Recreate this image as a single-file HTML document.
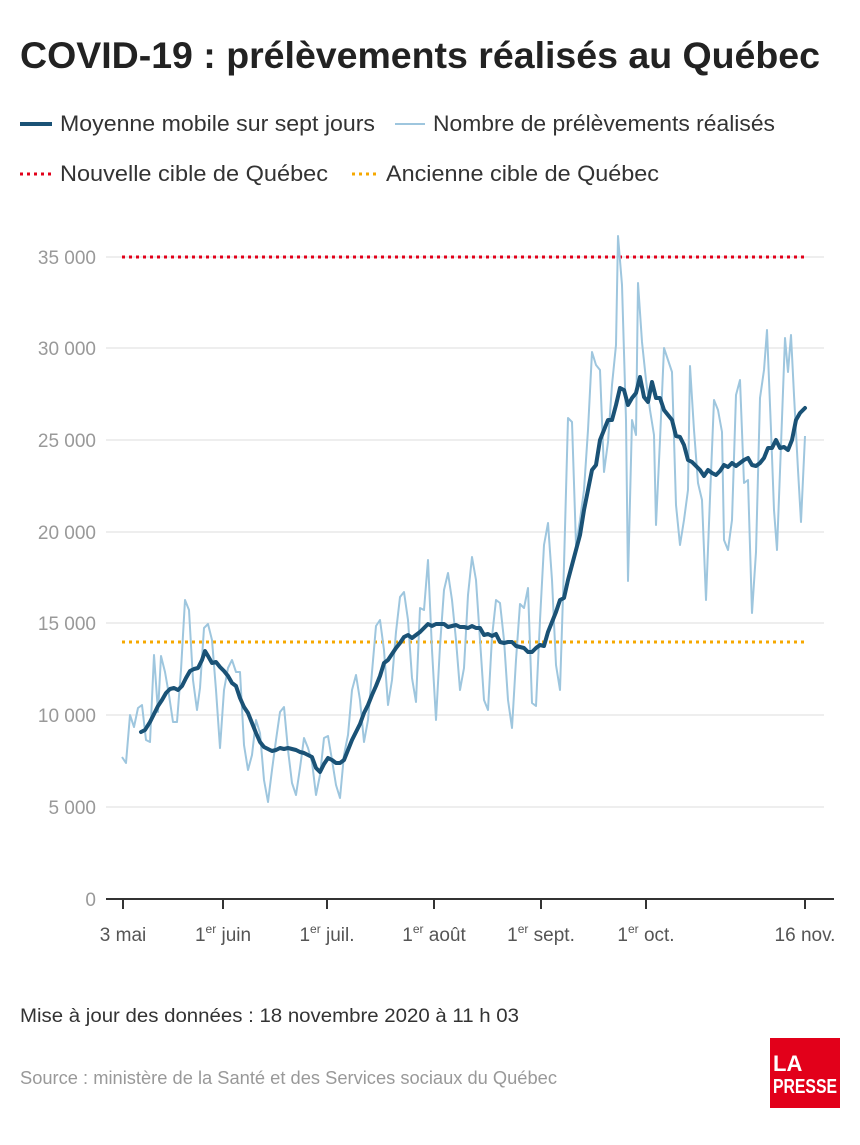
<!DOCTYPE html>
<html><head><meta charset="utf-8"><style>
body{margin:0;background:#fff;width:860px;height:1140px;overflow:hidden;font-family:"Liberation Sans",sans-serif;}
</style></head><body>
<svg width="860" height="1140" xmlns="http://www.w3.org/2000/svg" font-family="Liberation Sans, sans-serif">
<text x="20" y="68" font-size="37" font-weight="bold" fill="#222" textLength="800" lengthAdjust="spacingAndGlyphs">COVID-19 : prélèvements réalisés au Québec</text>
<line x1="20" y1="124" x2="52" y2="124" stroke="#1a5276" stroke-width="4"/>
<text x="60" y="131" font-size="22" fill="#333" textLength="315" lengthAdjust="spacingAndGlyphs">Moyenne mobile sur sept jours</text>
<line x1="395" y1="124" x2="425" y2="124" stroke="#9ec6de" stroke-width="2"/>
<text x="433" y="131" font-size="22" fill="#333" textLength="342" lengthAdjust="spacingAndGlyphs">Nombre de prélèvements réalisés</text>
<line x1="20" y1="174" x2="52" y2="174" stroke="#e2001a" stroke-width="3" stroke-dasharray="3,4"/>
<text x="60" y="181" font-size="22" fill="#333" textLength="268" lengthAdjust="spacingAndGlyphs">Nouvelle cible de Québec</text>
<line x1="352" y1="174" x2="380" y2="174" stroke="#f6a800" stroke-width="3" stroke-dasharray="3,4"/>
<text x="386" y="181" font-size="22" fill="#333" textLength="273" lengthAdjust="spacingAndGlyphs">Ancienne cible de Québec</text>
<g stroke="#ddd" stroke-width="1">
<line x1="106" y1="257" x2="824" y2="257"/><line x1="106" y1="348" x2="824" y2="348"/><line x1="106" y1="440" x2="824" y2="440"/><line x1="106" y1="532" x2="824" y2="532"/><line x1="106" y1="623" x2="824" y2="623"/><line x1="106" y1="715" x2="824" y2="715"/><line x1="106" y1="807" x2="824" y2="807"/>
</g>
<g font-size="19" fill="#999" text-anchor="end">
<text x="96" y="264">35 000</text><text x="96" y="355">30 000</text><text x="96" y="447">25 000</text><text x="96" y="539">20 000</text><text x="96" y="630">15 000</text><text x="96" y="722">10 000</text><text x="96" y="814">5 000</text><text x="96" y="906">0</text>
</g>
<line x1="106" y1="899" x2="834" y2="899" stroke="#333" stroke-width="2"/>
<g stroke="#333" stroke-width="2">
<line x1="123" y1="899" x2="123" y2="909"/><line x1="223" y1="899" x2="223" y2="909"/><line x1="327" y1="899" x2="327" y2="909"/><line x1="434" y1="899" x2="434" y2="909"/><line x1="541" y1="899" x2="541" y2="909"/><line x1="646" y1="899" x2="646" y2="909"/><line x1="805" y1="899" x2="805" y2="909"/>
</g>
<g font-size="19" fill="#555" text-anchor="middle">
<text x="123" y="941">3 mai</text>
<text x="223" y="941">1<tspan font-size="12" dy="-8">er</tspan><tspan dy="8"> juin</tspan></text>
<text x="327" y="941">1<tspan font-size="12" dy="-8">er</tspan><tspan dy="8"> juil.</tspan></text>
<text x="434" y="941">1<tspan font-size="12" dy="-8">er</tspan><tspan dy="8"> août</tspan></text>
<text x="541" y="941">1<tspan font-size="12" dy="-8">er</tspan><tspan dy="8"> sept.</tspan></text>
<text x="646" y="941">1<tspan font-size="12" dy="-8">er</tspan><tspan dy="8"> oct.</tspan></text>
<text x="805" y="941">16 nov.</text>
</g>
<line x1="122" y1="257" x2="805" y2="257" stroke="#e2001a" stroke-width="3" stroke-dasharray="3,4"/>
<line x1="122" y1="642" x2="805" y2="642" stroke="#f6a800" stroke-width="3" stroke-dasharray="3,4"/>
<polyline fill="none" stroke="#9ec6de" stroke-width="2" stroke-linejoin="round" points="122,757 126,763 130,715 134,727 138,708 142,705 146,740 150,742 154,655 158,712 161,656 165,672 169,695 173,722 177,722 181,670 185,600 189,610 193,680 197,710 200,688 204,628 208,624 212,640 216,690 220,748 224,690 228,668 232,660 236,672 240,672 244,745 248,770 252,755 256,720 260,733 264,780 268,802 272,770 276,740 280,712 284,707 288,750 292,783 296,795 300,768 304,738 308,748 312,762 316,795 320,775 324,738 328,736 332,760 336,785 340,798 344,755 348,735 352,690 356,675 360,700 364,742 368,720 372,672 376,626 380,620 384,650 388,705 392,680 396,632 400,597 404,592 408,620 412,678 416,702 420,608 424,610 428,560 432,650 436,720 440,646 444,590 448,573 452,600 456,640 460,690 464,668 468,595 472,557 476,580 480,640 484,700 488,710 492,637 496,600 500,603 504,640 508,700 512,728 516,660 520,604 524,608 528,588 532,703 536,706 540,620 544,545 548,523 552,580 556,665 560,690 564,565 568,418 572,422 576,545 580,520 584,490 588,430 592,352 596,365 600,370 604,472 608,442 612,385 616,345 618,236 622,285 626,420 628,581 632,420 636,435 638,283 642,342 646,380 650,410 654,435 656,525 660,440 664,348 668,360 672,372 676,505 680,545 684,520 688,490 690,366 694,430 698,483 702,500 706,600 710,498 714,400 718,410 722,432 724,540 728,550 732,520 736,395 740,380 744,483 748,480 752,613 756,552 760,398 764,370 767,330 771,430 774,510 777,550 781,445 785,338 788,372 791,335 794,395 798,470 801,522 805,436"/>
<polyline fill="none" stroke="#1a5276" stroke-width="4" stroke-linejoin="round" stroke-linecap="round" points="141,732 145,730 150,722 154,714 158,706 162,700 166,693 170,689 174,688 178,690 182,686 186,678 190,671 194,669 198,668 202,660 205,651 208,656 212,663 216,662 220,667 224,671 228,676 232,683 236,686 240,698 244,707 248,713 252,723 256,733 260,742 264,747 268,749 272,751 276,750 280,748 284,749 288,748 292,749 296,750 300,752 304,753 308,755 312,757 316,768 320,772 324,764 328,758 332,760 336,763 340,763 344,760 348,750 352,740 356,732 360,724 364,713 368,705 372,695 376,686 380,676 384,663 388,660 392,654 396,648 400,643 404,637 408,635 412,638 416,635 420,632 424,628 428,624 432,626 436,624 440,624 444,624 448,627 452,626 456,625 460,627 464,627 468,628 472,626 476,628 480,628 484,635 488,634 492,636 496,634 500,642 504,643 508,642 512,642 516,646 520,647 524,648 528,652 532,652 536,648 540,645 544,646 548,632 552,622 556,612 560,600 564,598 568,580 572,565 576,550 580,535 584,510 588,490 592,470 596,465 600,440 604,430 608,420 612,420 616,405 620,388 624,390 628,405 632,398 636,393 640,377 644,397 648,402 652,382 656,398 660,398 664,410 668,415 672,420 676,436 680,437 684,445 688,460 692,462 696,466 700,470 704,476 708,470 712,473 716,475 720,471 724,465 728,467 732,463 736,466 740,463 744,460 748,458 752,465 756,466 760,463 764,458 768,448 772,448 776,440 780,448 784,447 788,450 792,440 796,420 800,413 805,408"/>
<text x="20" y="1022" font-size="19" fill="#333" textLength="499" lengthAdjust="spacingAndGlyphs">Mise à jour des données : 18 novembre 2020 à 11 h 03</text>
<text x="20" y="1084" font-size="18" fill="#999" textLength="537" lengthAdjust="spacingAndGlyphs">Source : ministère de la Santé et des Services sociaux du Québec</text>
<rect x="770" y="1038" width="70" height="70" fill="#e2001a"/>
<text x="773" y="1071" font-size="22" font-weight="bold" fill="#fff">LA</text>
<text x="773" y="1093" font-size="20" font-weight="bold" fill="#fff" textLength="64" lengthAdjust="spacingAndGlyphs">PRESSE</text>
</svg>
</body></html>
